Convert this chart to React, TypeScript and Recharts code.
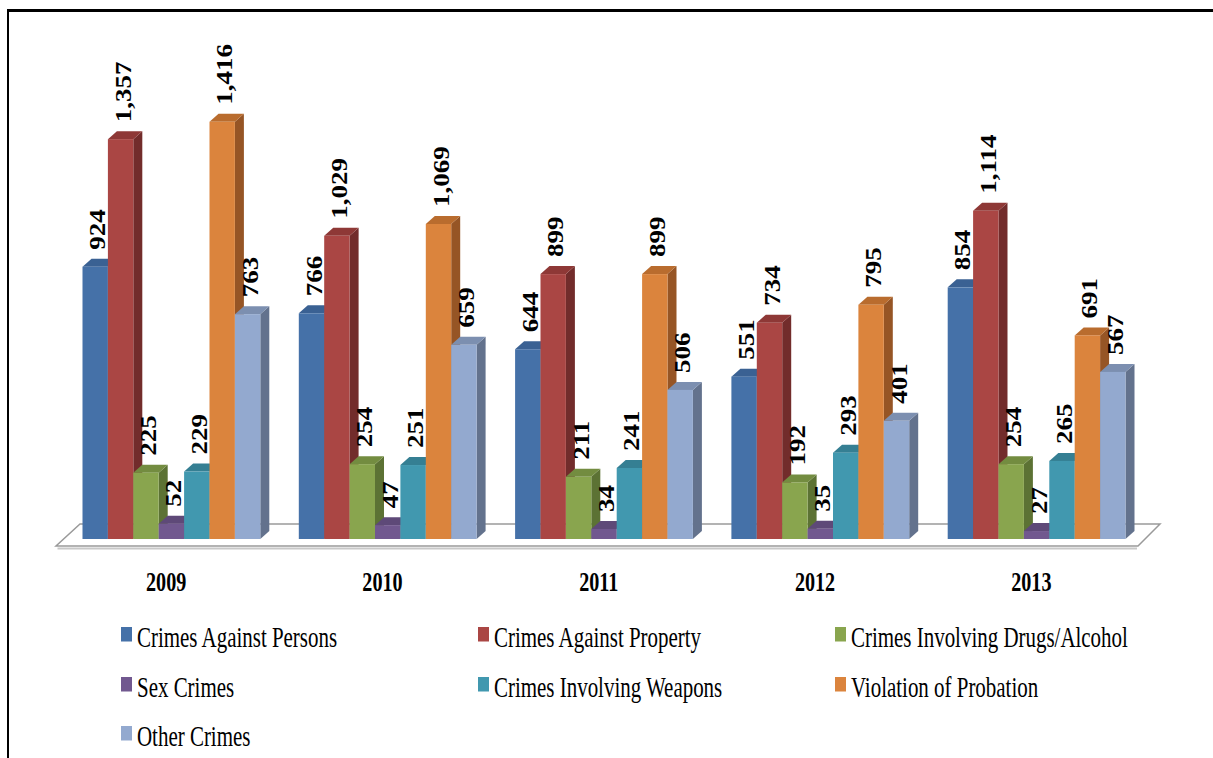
import React from 'react';
import { BarChart, Bar, XAxis, YAxis, LabelList } from 'recharts';

const YEARS = ['2009', '2010', '2011', '2012', '2013'];
const PERSONS = [924, 766, 644, 551, 854];
const PROPERTY = [1357, 1029, 899, 734, 1114];
const DRUGS = [225, 254, 211, 192, 254];
const SEX = [52, 47, 34, 35, 27];
const WEAPONS = [229, 251, 241, 293, 265];
const PROBATION = [1416, 1069, 899, 795, 691];
const OTHER = [763, 659, 506, 401, 567];

const SERIES = [
  { key: 'persons', name: 'Crimes Against Persons', values: PERSONS, front: '#4571A8', side: '#2E4D75', top: '#3A6193' },
  { key: 'property', name: 'Crimes Against Property', values: PROPERTY, front: '#AA4644', side: '#722C2B', top: '#8E3836' },
  { key: 'drugs', name: 'Crimes Involving Drugs/Alcohol', values: DRUGS, front: '#89A54E', side: '#5C7234', top: '#738C40' },
  { key: 'sex', name: 'Sex Crimes', values: SEX, front: '#71588F', side: '#4D3B63', top: '#5E4978' },
  { key: 'weapons', name: 'Crimes Involving Weapons', values: WEAPONS, front: '#4198AF', side: '#2B6879', top: '#357F93' },
  { key: 'probation', name: 'Violation of Probation', values: PROBATION, front: '#DB843D', side: '#965525', top: '#B96C2E' },
  { key: 'other', name: 'Other Crimes', values: OTHER, front: '#93A9CF', side: '#63728D', top: '#7C8FB0' },
];

const data = YEARS.map((year, i) => {
  const row: Record<string, string | number> = { year };
  SERIES.forEach((s) => { row[s.key] = s.values[i]; });
  return row;
});

// layout constants
const W = 1213;
const H = 758;
const PL = 63.5;
const PW = 1081.5;
const PR = PL + PW;
const PT = 97;
const PB = 539;
const XAXIS_H = 30;
const DX = 9;
const DY = 8;
const FONT = "'Liberation Serif', 'Times New Roman', serif";

const makeShape = (s: typeof SERIES[number]) => (p: any) => {
  const x = Number(p.x), y = Number(p.y), w = Number(p.width), h = Number(p.height);
  if (!isFinite(x) || !isFinite(y) || !(h >= 0)) return <g />;
  const b = y + h;
  const top = `${x},${y} ${x + w},${y} ${x + w + DX},${y - DY} ${x + DX},${y - DY}`;
  const side = `${x + w},${y} ${x + w + DX},${y - DY} ${x + w + DX},${b - DY} ${x + w},${b}`;
  return (
    <g>
      <polygon points={side} fill={s.side} />
      <polygon points={top} fill={s.top} />
      <rect x={x} y={y} width={w} height={h} fill={s.front} />
    </g>
  );
};

const RotLabel = (p: any) => {
  const x = Number(p.x), y = Number(p.y), w = Number(p.width);
  if (!isFinite(x) || !isFinite(y)) return null;
  const cx = x + w / 2 + 2;
  const bx = cx + 8;
  const by = y - 17;
  const txt = Number(p.value).toLocaleString('en-US');
  return (
    <text
      transform={`translate(${bx},${by}) rotate(-90) scale(1.0,0.88)`}
      x={0}
      y={0}
      textAnchor="start"
      fontFamily={FONT}
      fontWeight="bold"
      fontSize={27}
      fill="#000"
    >
      {txt}
    </text>
  );
};

const YearTick = (p: any) => {
  const x = Number(p.x);
  return (
    <text
      transform={`translate(${x - 5.5},${PB + 51.5}) scale(0.72,1)`}
      textAnchor="middle"
      fontFamily={FONT}
      fontWeight="bold"
      fontSize={28}
      fill="#000"
    >
      {p.payload?.value}
    </text>
  );
};

const LEG_COLS = [121, 478, 835];
const LEG_ROWS = [647, 697, 746];

export default function App() {
  const floor = `${PL - 7.5},${PB + 7} ${PR - 7},${PB + 7} ${PR + 15},${PB - 15} ${PL + 16.5},${PB - 15}`;
  return (
    <div style={{ position: 'absolute', left: 0, top: 0, width: W, height: H, overflow: 'hidden', background: '#fff' }}>
      <div style={{ position: 'absolute', left: 7, top: 9, width: 1400, height: 1000, borderTop: '3px solid #000', borderLeft: '2px solid #000' }} />
      <svg width={W} height={H} style={{ position: 'absolute', left: 0, top: 0 }}>
        <polygon points={floor} fill="#ffffff" stroke="#9a9a9a" strokeWidth={1.5} />
        <line x1={PL - 6} y1={PB + 9.5} x2={PR - 8} y2={PB + 9.5} stroke="#c8c8c8" strokeWidth={2} />
      </svg>
      <div style={{ position: 'absolute', left: 0, top: 0 }}>
        <BarChart
          width={W}
          height={H}
          data={data}
          margin={{ top: PT, right: W - PR, left: PL, bottom: H - PB - XAXIS_H }}
          barGap={0}
          barSize={25.4}
        >
          <XAxis dataKey="year" height={XAXIS_H} axisLine={false} tickLine={false} tick={<YearTick />} interval={0} />
          <YAxis hide domain={[0, 1500]} />
          {SERIES.map((s) => (
            <Bar key={s.key} dataKey={s.key} name={s.name} fill={s.front} shape={makeShape(s)} isAnimationActive={false}>
              <LabelList dataKey={s.key} content={<RotLabel />} />
            </Bar>
          ))}
        </BarChart>
      </div>
      <svg width={W} height={H} style={{ position: 'absolute', left: 0, top: 0, pointerEvents: 'none' }}>
        {SERIES.map((s, i) => {
          const col = i % 3;
          const row = Math.floor(i / 3);
          const sx = LEG_COLS[col];
          const by = LEG_ROWS[row];
          return (
            <g key={s.key}>
              <rect x={sx} y={by - 20} width={11} height={14.5} fill={s.front} />
              <text
                transform={`translate(${sx + 16},${by}) scale(0.735,1)`}
                fontFamily={FONT}
                fontSize={28.5}
                fill="#000"
              >
                {s.name}
              </text>
            </g>
          );
        })}
      </svg>
    </div>
  );
}
